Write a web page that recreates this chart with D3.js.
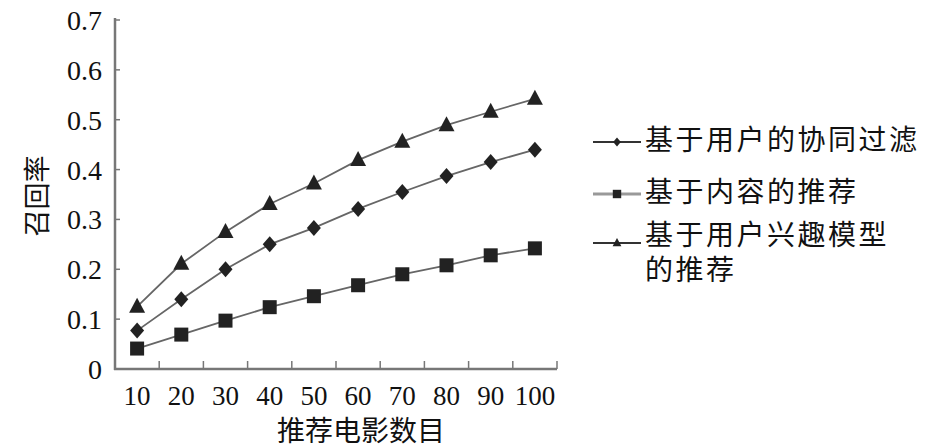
<!DOCTYPE html>
<html><head><meta charset="utf-8">
<script src="https://cdn.jsdelivr.net/npm/d3@7"></script>
<style>body{margin:0;background:#fff}svg{display:block}
.sf{font-family:"Liberation Serif","DejaVu Serif","Times New Roman",serif}
.cj{font-family:"Noto Sans CJK SC","Noto Sans CJK JP",sans-serif}</style>
</head><body>
<svg id="c" width="945" height="448"></svg>
<script>
const categories = [10,20,30,40,50,60,70,80,90,100];
const userCF = [0.077,0.140,0.200,0.250,0.283,0.321,0.355,0.387,0.415,0.440];
const contentBased = [0.041,0.069,0.097,0.124,0.146,0.168,0.190,0.208,0.228,0.242];
const interestModel = [0.125,0.211,0.275,0.331,0.372,0.419,0.456,0.489,0.516,0.542];
const yTicks = [0,0.1,0.2,0.3,0.4,0.5,0.6,0.7];
const seriesNames = [["基于用户的协同过滤"],["基于内容的推荐"],["基于用户兴趣模型","的推荐"]];
const yTitle = "召回率";
const xTitle = "推荐电影数目";

const svg = d3.select("#c");
const x = d3.scaleBand().domain(categories).range([115,557]).paddingInner(0).paddingOuter(0);
const y = d3.scaleLinear().domain([0,0.7]).range([369,20]);
const cx = d => x(d)+x.bandwidth()/2;

// axes
const axisColor = "#777";
svg.append("line").attr("x1",115).attr("x2",115).attr("y1",y(0.7)-2).attr("y2",y(0)+1)
  .attr("stroke",axisColor).attr("stroke-width",2.5);
svg.append("line").attr("x1",114).attr("x2",x.range()[1]).attr("y1",y(0)).attr("y2",y(0))
  .attr("stroke",axisColor).attr("stroke-width",2.5);
svg.selectAll(".yt").data(yTicks.slice(1)).enter().append("line")
  .attr("x1",115).attr("x2",120).attr("y1",d=>y(d)).attr("y2",d=>y(d))
  .attr("stroke",axisColor).attr("stroke-width",1.5);
svg.selectAll(".ytl").data(yTicks).enter().append("text").attr("class","sf")
  .attr("x",102).attr("y",d=>y(d)+10).attr("text-anchor","end")
  .attr("font-size",28).attr("fill","#111")
  .text(d=>d===0?"0":d3.format(".1f")(d));
svg.selectAll(".xt").data(categories).enter().append("line")
  .attr("x1",d=>x(d)+x.bandwidth()).attr("x2",d=>x(d)+x.bandwidth())
  .attr("y1",y(0)).attr("y2",y(0)-8).attr("stroke",axisColor).attr("stroke-width",1.5);
svg.selectAll(".xtl").data(categories).enter().append("text").attr("class","sf")
  .attr("x",d=>cx(d)).attr("y",405).attr("text-anchor","middle")
  .attr("font-size",27).attr("fill","#111").text(d=>d);
svg.append("text").attr("class","cj").attr("x",361).attr("y",441).attr("text-anchor","middle")
  .attr("font-size",28).attr("fill","#111").text(xTitle);
svg.append("text").attr("class","cj").attr("transform","translate(47,196) rotate(-90)").attr("text-anchor","middle")
  .attr("font-size",27).attr("fill","#111").text(yTitle);

// series
const series = [
  {vals:userCF, shape:"diamond"},
  {vals:contentBased, shape:"square"},
  {vals:interestModel, shape:"triangle"}
];
const line = d3.line().x((d,i)=>cx(categories[i])).y(d=>y(d));
function marker(g, shape, px, py, s){
  if(shape==="diamond"){
    g.append("path").attr("d",`M${px},${py-8*s}L${px+7*s},${py}L${px},${py+8*s}L${px-7*s},${py}Z`).attr("fill","#222");
  } else if(shape==="square"){
    g.append("rect").attr("x",px-7*s).attr("y",py-7*s).attr("width",14*s).attr("height",14*s).attr("fill","#222");
  } else {
    g.append("path").attr("d",`M${px},${py-9*s}L${px+8*s},${py+6*s}L${px-8*s},${py+6*s}Z`).attr("fill","#222");
  }
}
series.forEach(s=>{
  svg.append("path").datum(s.vals).attr("d",line).attr("fill","none")
    .attr("stroke","#666").attr("stroke-width",1.8);
  const g = svg.append("g");
  s.vals.forEach((v,i)=>marker(g,s.shape,cx(categories[i]),y(v),1));
});

// legend
const legY = [142,194,243];
series.forEach((s,i)=>{
  svg.append("line").attr("x1",593).attr("x2",641).attr("y1",legY[i]).attr("y2",legY[i])
    .attr("stroke", i===1?"#999":"#333").attr("stroke-width", i===1?3:1.8);
  marker(svg.append("g"), s.shape, 617, legY[i], i===1?0.6:0.55);
  seriesNames[i].forEach((t,k)=>{
    svg.append("text").attr("class","cj").attr("x",645).attr("y",legY[i]+(i===2?-8:-2)+10+k*35)
      .attr("font-size",28).attr("letter-spacing",2.5).attr("fill","#111").text(t);
  });
});
</script>
</body></html>
